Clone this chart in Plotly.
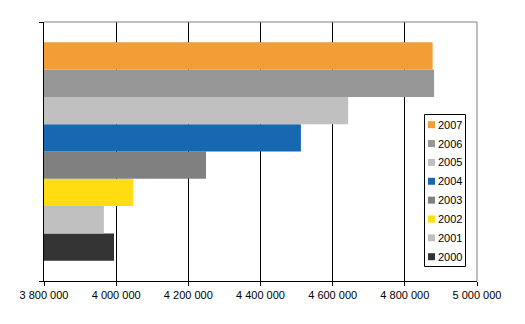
import plotly.graph_objects as go

years = ["2000", "2001", "2002", "2003", "2004", "2005", "2006", "2007"]
values = [3994000, 3966000, 4047000, 4249000, 4512000, 4643000, 4881000, 4877000]
colors = ["#333333", "#C0C0C0", "#FFDD10", "#808080", "#1767B1", "#C0C0C0", "#979797", "#F29D35"]
x_ticks = [3800000, 4000000, 4200000, 4400000, 4600000, 4800000, 5000000]

W, H = 525, 324
ML, MR, MT, MB = 44, 48, 22, 43
PW, PH = W - ML - MR, H - MT - MB


def px(x):
    return (x - ML) / PW


def py(y):
    return (H - MB - y) / PH


fig = go.Figure()
for yr, v, c in zip(years, values, colors):
    fig.add_trace(go.Bar(
        y=[0], x=[v], name=yr, orientation="h",
        marker=dict(color=c, line=dict(width=0)),
    ))

shapes = [
    dict(type="line", xref="paper", yref="paper", x0=0, x1=1, y0=1, y1=1,
         line=dict(color="#808080", width=1)),
    dict(type="line", xref="paper", yref="paper", x0=1, x1=1, y0=0, y1=1,
         line=dict(color="#808080", width=1)),
    # legend box
    dict(type="rect", xref="paper", yref="paper",
         x0=px(424.5), x1=px(465.5), y0=py(266.5), y1=py(114.5),
         line=dict(color="black", width=1), fillcolor="white", layer="above"),
]
annotations = []
legend_years = list(reversed(years))
legend_colors = list(reversed(colors))
for i, (yr, c) in enumerate(zip(legend_years, legend_colors)):
    cy = 124.7 + 18.86 * i
    shapes.append(dict(type="rect", xref="paper", yref="paper",
                       x0=px(428), x1=px(435), y0=py(cy + 3.5), y1=py(cy - 3.5),
                       line=dict(width=0), fillcolor=c, layer="above"))
    annotations.append(dict(xref="paper", yref="paper", x=px(436.5), y=py(cy),
                            xanchor="left", yanchor="middle", text=yr, showarrow=False,
                            font=dict(size=11, color="black"), borderpad=0))

fig.update_layout(
    width=W, height=H,
    margin=dict(l=ML, r=MR, t=MT, b=MB),
    paper_bgcolor="white", plot_bgcolor="white",
    barmode="group", bargap=0.157, bargroupgap=0,
    separators=", ",
    font=dict(family="Liberation Sans, Arial, sans-serif", size=11, color="black"),
    showlegend=False,
    xaxis=dict(
        range=[3800000, 5000000], tickvals=x_ticks, tickformat=",d",
        showgrid=True, gridcolor="black", gridwidth=1,
        showline=True, linecolor="black", linewidth=1,
        ticks="outside", ticklen=4, tickcolor="black",
        zeroline=False, fixedrange=True,
        tickfont=dict(size=11, color="black"),
    ),
    yaxis=dict(
        range=[-0.5, 0.5], tickvals=[-0.5, 0.5], showticklabels=False,
        showgrid=False, zeroline=False,
        showline=True, linecolor="black", linewidth=1,
        ticks="outside", ticklen=4, tickcolor="black",
    ),
    shapes=shapes,
    annotations=annotations,
)

fig.write_html("out.html")
